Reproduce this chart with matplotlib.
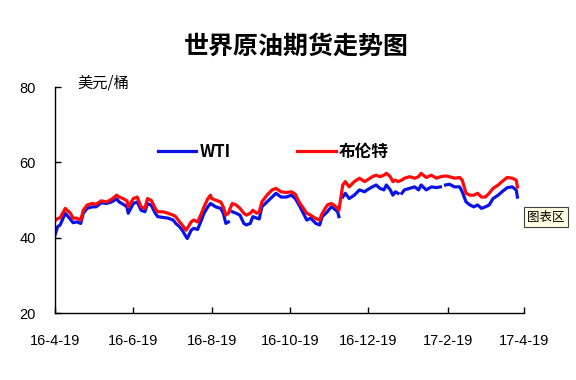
import numpy as np
import pandas as pd
import matplotlib
matplotlib.use("Agg")
import matplotlib.pyplot as plt

plt.rcParams['font.family'] = ['Noto Sans CJK SC', 'DejaVu Sans']

# prices, NaN = no quote that day
dates = ["2016-04-19", "2016-04-21", "2016-04-23", "2016-04-27", "2016-05-01", "2016-05-03",
         "2016-05-06", "2016-05-09", "2016-05-11", "2016-05-14", "2016-05-18", "2016-05-21",
         "2016-05-25", "2016-05-29", "2016-06-02", "2016-06-06", "2016-06-08", "2016-06-11",
         "2016-06-14", "2016-06-15", "2016-06-19", "2016-06-22", "2016-06-25", "2016-06-28",
         "2016-06-30", "2016-07-03", "2016-07-06", "2016-07-08", "2016-07-12", "2016-07-16",
         "2016-07-20", "2016-07-22", "2016-07-25", "2016-07-27", "2016-07-30", "2016-07-31",
         "2016-08-03", "2016-08-05", "2016-08-08", "2016-08-11", "2016-08-13", "2016-08-16",
         "2016-08-18", "2016-08-19", "2016-08-22", "2016-08-26", "2016-08-28", "2016-08-30",
         "2016-09-01", "2016-09-02", "2016-09-04", "2016-09-07", "2016-09-10", "2016-09-13",
         "2016-09-15", "2016-09-18", "2016-09-20", "2016-09-23", "2016-09-25", "2016-09-27",
         "2016-10-01", "2016-10-05", "2016-10-08", "2016-10-12", "2016-10-16", "2016-10-20",
         "2016-10-23", "2016-10-26", "2016-11-01", "2016-11-04", "2016-11-08", "2016-11-11",
         "2016-11-13", "2016-11-17", "2016-11-20", "2016-11-22", "2016-11-25", "2016-11-26",
         "2016-11-27", "2016-11-29", "2016-12-01", "2016-12-04", "2016-12-08", "2016-12-12",
         "2016-12-16", "2016-12-18", "2016-12-22", "2016-12-25", "2016-12-28", "2016-12-31",
         "2017-01-02", "2017-01-05", "2017-01-07", "2017-01-09", "2017-01-11", "2017-01-12",
         "2017-01-14", "2017-01-16", "2017-01-20", "2017-01-24", "2017-01-27", "2017-01-29",
         "2017-02-02", "2017-02-06", "2017-02-10", "2017-02-13", "2017-02-15", "2017-02-17",
         "2017-02-20", "2017-02-24", "2017-02-28", "2017-03-02", "2017-03-05", "2017-03-08",
         "2017-03-11", "2017-03-14", "2017-03-17", "2017-03-20", "2017-03-23", "2017-03-26",
         "2017-03-30", "2017-04-02", "2017-04-06", "2017-04-10", "2017-04-13", "2017-04-14"]

nan = np.nan
wti = [40.7, 42.9, 43.4, 46.5, 44.9, 44.0,
       44.2, 43.8, 46.5, 47.8, 48.2, 48.2,
       49.3, 49.1, 49.5, 50.3, 49.5, 48.9,
       48.2, 46.5, 49.1, 49.5, 47.3, 46.9,
       49.1, 48.6, 46.5, 45.6, 45.4, 45.2,
       44.7, 43.8, 42.9, 42.0, 40.3, 39.8,
       42.0, 42.5, 42.2, 44.7, 46.5, 48.2,
       49.1, 48.9, 48.2, 47.8, 46.5, 43.8,
       44.2, nan, 46.9, 46.5, 46.0, 43.8,
       43.4, 43.8, 45.6, 45.2, 45.0, 48.2,
       49.5, 50.8, 51.8, 50.8, 50.8, 51.3,
       50.4, 48.7, 44.7, 45.2, 43.8, 43.4,
       45.6, 46.9, 48.2, 47.8, 46.9, 45.6,
       nan, 50.8, 51.8, 50.4, 51.3, 52.7,
       52.2, 52.7, 53.5, 54.0, 53.1, 52.7,
       54.0, 52.7, 51.3, 52.2, 51.8, nan,
       51.8, 52.7, 53.1, 53.5, 52.7, 54.0,
       52.7, 53.5, 53.3, 53.5, nan, 54.0,
       54.2, 53.5, 53.5, 52.2, 49.5, 48.7,
       48.2, 48.7, 47.8, 48.2, 48.7, 50.4,
       51.3, 52.2, 53.3, 53.5, 52.7, 50.8]

brent = [44.5, 45.1, 45.3, 47.8, 46.5, 45.2,
         45.2, 44.7, 47.3, 48.7, 49.1, 48.9,
         49.8, 49.5, 50.2, 51.3, 50.8, 50.4,
         49.8, 48.2, 50.4, 50.8, 48.2, 47.8,
         50.4, 49.9, 47.8, 46.9, 46.9, 46.5,
         46.0, 45.6, 44.2, 43.4, 42.0, 42.5,
         44.2, 44.7, 44.2, 46.5, 48.2, 50.4,
         51.3, 50.4, 50.0, 49.5, 48.2, 46.0,
         46.5, 47.5, 49.1, 48.7, 47.8, 46.5,
         46.0, 46.5, 47.3, 46.5, 46.9, 49.5,
         51.3, 52.7, 53.1, 52.2, 52.0, 52.2,
         51.6, 49.5, 46.5, 46.0, 45.1, 44.7,
         46.5, 48.7, 49.1, 48.7, 47.8, 47.3,
         nan, 54.0, 54.9, 53.5, 54.9, 55.8,
         54.9, 55.3, 56.2, 56.6, 56.2, 56.6,
         57.1, 56.2, 54.9, 55.3, 54.9, nan,
         55.3, 55.8, 56.2, 55.8, 56.2, 57.1,
         56.0, 56.6, 55.8, 56.2, nan, 56.4,
         56.2, 55.8, 56.0, 55.3, 51.8, 51.3,
         51.3, 51.8, 50.8, 50.8, 51.8, 53.1,
         54.0, 54.9, 56.0, 55.8, 55.3, 53.5]

tick_dates = ["2016-04-19", "2016-06-19", "2016-08-19", "2016-10-19",
              "2016-12-19", "2017-02-19", "2017-04-19"]
tick_labels = ["16-4-19", "16-6-19", "16-8-19", "16-10-19", "16-12-19", "17-2-19", "17-4-19"]

x = pd.to_datetime(dates)
wti = np.array(wti)
brent = np.array(brent)
ok = ~np.isnan(brent)

fig = plt.figure(figsize=(5.76, 3.8), dpi=100)
ax = fig.add_axes([0.0955, 0.176, 0.814, 0.595])

ax.plot(x, wti, color="#0a14e6", lw=2.3, label="WTI")
ax.plot(x[ok], brent[ok], color="#ff0a0a", lw=2.3, label="布伦特")

ax.set_xlim(pd.Timestamp("2016-04-19"), pd.Timestamp("2017-04-19"))
ax.set_ylim(20, 80)
ax.set_yticks([20, 40, 60, 80])
ax.set_xticks(pd.to_datetime(tick_dates))
ax.set_xticklabels(tick_labels)
for lab in ax.get_xticklabels() + ax.get_yticklabels():
    lab.set_family("Liberation Sans")
    lab.set_fontsize(10.5)
ax.tick_params(direction="in", length=4, width=1, pad=14, colors="black")
ax.tick_params(axis="x", pad=15)

for s in ["top", "right"]:
    ax.spines[s].set_visible(False)
for s in ["left", "bottom"]:
    ax.spines[s].set_linewidth(1)

leg = ax.legend(loc="center left", bbox_to_anchor=(158 / 576, 1 - 152 / 380),
                bbox_transform=fig.transFigure, ncol=2, frameon=False,
                borderpad=0, borderaxespad=0, handlelength=2.3, handletextpad=0.2,
                columnspacing=4.0, prop={"size": 12, "weight": "bold"})

fig.text(296 / 576, 1 - 47 / 380, "世界原油期货走势图", ha="center", va="center",
         fontsize=18, fontweight="bold")
fig.text(77 / 576, 1 - 83 / 380, "美元/桶", ha="left", va="center", fontsize=11)
fig.text(546 / 576, 1 - 217 / 380, "图表区", ha="center", va="center", fontsize=9,
         bbox=dict(boxstyle="square,pad=0.25", facecolor="#ffffe1", edgecolor="#404040", lw=0.8))

fig.savefig("out.png", dpi=100)
